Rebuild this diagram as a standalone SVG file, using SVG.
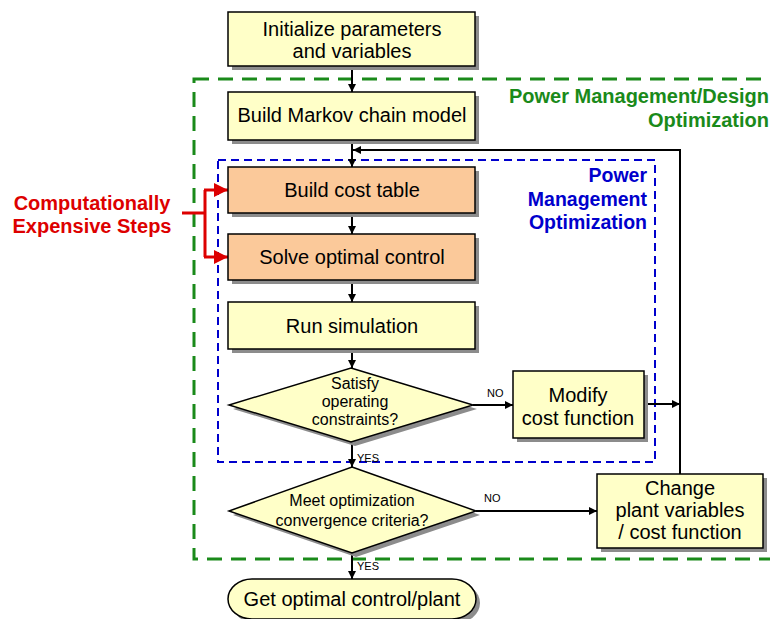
<svg xmlns="http://www.w3.org/2000/svg" width="770" height="619" viewBox="0 0 770 619">
  <defs>
    <marker id="arr" viewBox="0 0 10 10" refX="10" refY="5" markerWidth="8" markerHeight="8" markerUnits="userSpaceOnUse" orient="auto">
      <path d="M0,0 L10,5 L0,10 Z" fill="#000"/>
    </marker>
    <marker id="arrRed" viewBox="0 0 10 10" refX="10" refY="5" markerWidth="15" markerHeight="14" markerUnits="userSpaceOnUse" orient="auto">
      <path d="M0,0 L10,5 L0,10 Z" fill="#dd0000"/>
    </marker>
  </defs>
  <style>
    .box { fill: #ffffc8; stroke: #000; stroke-width: 1.5; }
    .hot { fill: #fbc99a; stroke: #000; stroke-width: 1.5; }
    .shadow { fill: #8c8c8c; stroke: none; }
    .lbl { font-family: "Liberation Sans", Arial, sans-serif; font-size: 20px; fill: #000; text-anchor: middle; }
    .dlbl { font-family: "Liberation Sans", Arial, sans-serif; font-size: 16px; fill: #000; text-anchor: middle; }
    .tag { font-family: "Liberation Sans", Arial, sans-serif; font-size: 11px; fill: #000; }
    .link { fill: none; stroke: #000; stroke-width: 2; }
    .green { font-family: "Liberation Sans", Arial, sans-serif; font-weight: bold; font-size: 20px; fill: #1a8a1a; text-anchor: end; }
    .blue { font-family: "Liberation Sans", Arial, sans-serif; font-weight: bold; font-size: 19.5px; fill: #0000cc; text-anchor: end; }
    .red { font-family: "Liberation Sans", Arial, sans-serif; font-weight: bold; font-size: 20px; fill: #dd0000; text-anchor: middle; }
  </style>

  <!-- region frames -->
  <g id="design-region">
    <rect x="194" y="79" width="590" height="480" fill="none" stroke="#1a8a1a" stroke-width="3" stroke-dasharray="15 9"/>
    <text class="green" x="769" y="103">Power Management/Design</text>
    <text class="green" x="769" y="127">Optimization</text>
  </g>
  <g id="pm-region">
    <rect x="218" y="160" width="437" height="302" fill="none" stroke="#0000cc" stroke-width="2" stroke-dasharray="8 5"/>
    <text class="blue" x="647" y="182">Power</text>
    <text class="blue" x="647" y="206">Management</text>
    <text class="blue" x="647" y="229">Optimization</text>
  </g>

  <!-- connectors -->
  <g id="connectors">
    <path class="link" d="M352,66 V92" marker-end="url(#arr)"/>
    <path class="link" d="M352,140 V167" marker-end="url(#arr)"/>
    <path class="link" d="M352,213 V234" marker-end="url(#arr)"/>
    <path class="link" d="M352,280 V302" marker-end="url(#arr)"/>
    <path class="link" d="M352,349 V368" marker-end="url(#arr)"/>
    <path class="link" d="M352,442 V467" marker-end="url(#arr)"/>
    <path class="link" d="M352,553 V579" marker-end="url(#arr)"/>
    <path class="link" d="M473,405 H513" marker-end="url(#arr)"/>
    <path class="link" d="M644,404 H680" marker-end="url(#arr)"/>
    <path class="link" d="M476,511 H597" marker-end="url(#arr)"/>
    <path class="link" d="M680,474 V150 H353" marker-end="url(#arr)"/>
    <text class="tag" x="487" y="397">NO</text>
    <text class="tag" x="484" y="502">NO</text>
    <text class="tag" x="357" y="462">YES</text>
    <text class="tag" x="357" y="570">YES</text>
  </g>

  <!-- annotation -->
  <g id="expensive-note">
    <text class="red" x="92" y="210">Computationally</text>
    <text class="red" x="92" y="233">Expensive Steps</text>
    <path d="M182,213 H205 M205,190 V257" fill="none" stroke="#dd0000" stroke-width="3"/>
    <path d="M204,190 H228" fill="none" stroke="#dd0000" stroke-width="3" marker-end="url(#arrRed)"/>
    <path d="M204,257 H228" fill="none" stroke="#dd0000" stroke-width="3" marker-end="url(#arrRed)"/>
  </g>

  <!-- nodes -->
  <g id="init">
    <rect class="shadow" x="232" y="16" width="247" height="54"/>
    <rect class="box" x="228" y="12" width="247" height="54"/>
    <text class="lbl" x="352" y="36">Initialize parameters</text>
    <text class="lbl" x="352" y="58">and variables</text>
  </g>
  <g id="markov">
    <rect class="shadow" x="232" y="96" width="247" height="48"/>
    <rect class="box" x="228" y="92" width="247" height="48"/>
    <text class="lbl" x="352" y="122">Build Markov chain model</text>
  </g>
  <g id="cost-table">
    <rect class="shadow" x="232" y="171" width="247" height="46"/>
    <rect class="hot" x="228" y="167" width="247" height="46"/>
    <text class="lbl" x="352" y="197">Build cost table</text>
  </g>
  <g id="solve">
    <rect class="shadow" x="232" y="238" width="247" height="46"/>
    <rect class="hot" x="228" y="234" width="247" height="46"/>
    <text class="lbl" x="352" y="264">Solve optimal control</text>
  </g>
  <g id="simulate">
    <rect class="shadow" x="232" y="306" width="247" height="47"/>
    <rect class="box" x="228" y="302" width="247" height="47"/>
    <text class="lbl" x="352" y="333">Run simulation</text>
  </g>
  <g id="satisfy">
    <polygon class="shadow" points="355,372 477,409 355,446 233,409"/>
    <polygon class="box" points="351,368 473,405 351,442 229,405"/>
    <text class="dlbl" x="355" y="389">Satisfy</text>
    <text class="dlbl" x="355" y="407">operating</text>
    <text class="dlbl" x="355" y="425">constraints?</text>
  </g>
  <g id="modify">
    <rect class="shadow" x="517" y="375" width="131" height="67"/>
    <rect class="box" x="513" y="371" width="131" height="67"/>
    <text class="lbl" x="578" y="402">Modify</text>
    <text class="lbl" x="578" y="425">cost function</text>
  </g>
  <g id="converge">
    <polygon class="shadow" points="356,471 480,515 356,557 233,515"/>
    <polygon class="box" points="352,467 476,511 352,553 229,511"/>
    <text class="dlbl" x="352" y="506">Meet optimization</text>
    <text class="dlbl" x="352" y="526">convergence criteria?</text>
  </g>
  <g id="change">
    <rect class="shadow" x="601" y="478" width="166" height="74"/>
    <rect class="box" x="597" y="474" width="166" height="74"/>
    <text class="lbl" x="680" y="495">Change</text>
    <text class="lbl" x="680" y="517">plant variables</text>
    <text class="lbl" x="680" y="539">/ cost function</text>
  </g>
  <g id="result">
    <rect class="shadow" x="232" y="583" width="248" height="40" rx="24" ry="20"/>
    <rect class="box" x="228" y="579" width="248" height="40" rx="24" ry="20"/>
    <text class="lbl" x="352" y="606">Get optimal control/plant</text>
  </g>
</svg>
